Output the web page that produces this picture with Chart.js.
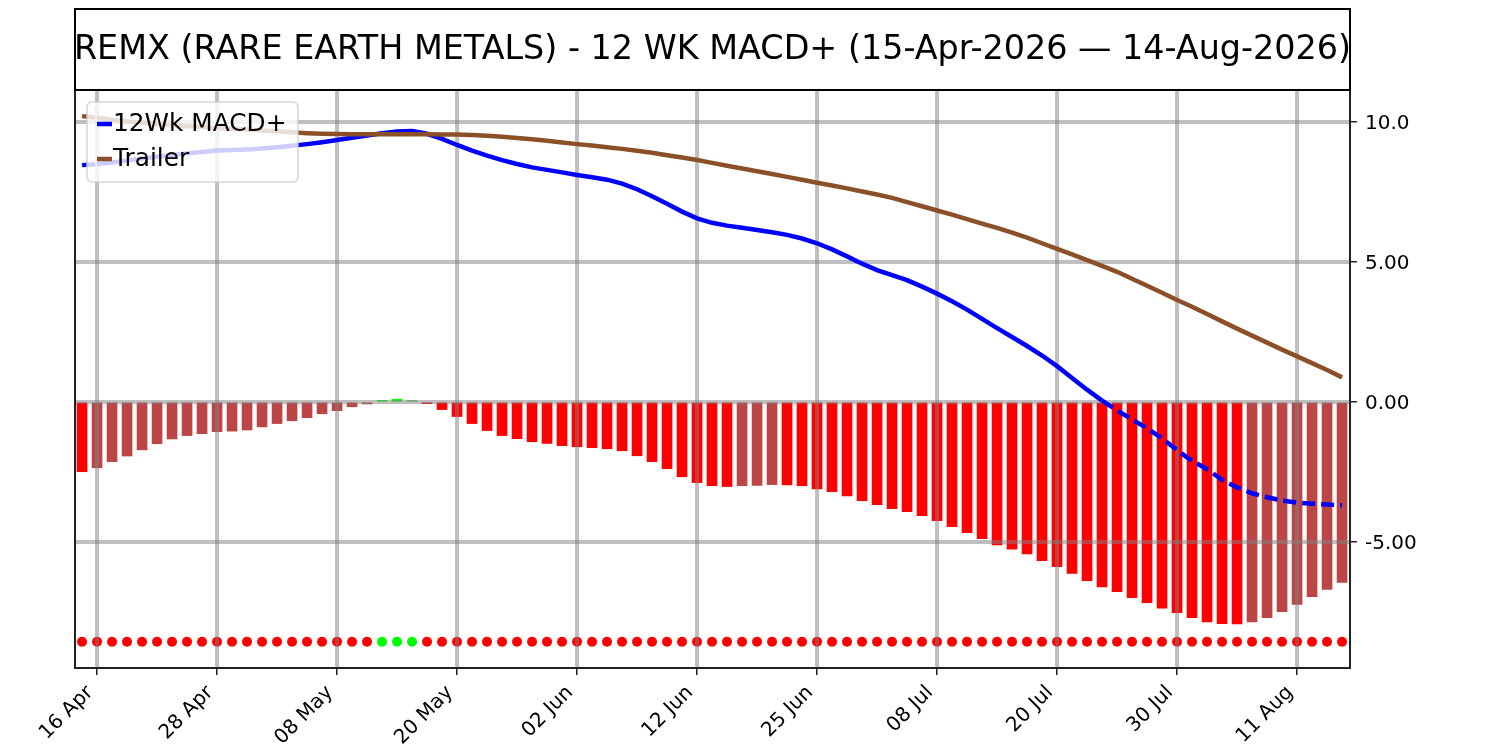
<!DOCTYPE html>
<html>
<head>
<meta charset="utf-8">
<script src="https://cdn.jsdelivr.net/npm/chart.js@4.4.1/dist/chart.umd.min.js"></script>
<style>
  html, body { margin: 0; padding: 0; background: #fff; }
</style>
</head>
<body>
<canvas id="chart" width="1500" height="750"></canvas>
<script>
const chartTitle = "REMX (RARE EARTH METALS) - 12 WK MACD+ (15-Apr-2026 \u2014 14-Aug-2026)";

// trading days, 15 Apr .. 14 Aug 2026
const dates = [
  "15 Apr", "16 Apr", "17 Apr", "20 Apr", "21 Apr", "22 Apr", "23 Apr", "24 Apr", "27 Apr", "28 Apr",
  "29 Apr", "30 Apr", "01 May", "04 May", "05 May", "06 May", "07 May", "08 May", "11 May", "12 May",
  "13 May", "14 May", "15 May", "18 May", "19 May", "20 May", "21 May", "22 May", "26 May", "27 May",
  "28 May", "29 May", "01 Jun", "02 Jun", "03 Jun", "04 Jun", "05 Jun", "08 Jun", "09 Jun", "10 Jun",
  "11 Jun", "12 Jun", "15 Jun", "16 Jun", "17 Jun", "18 Jun", "22 Jun", "23 Jun", "24 Jun", "25 Jun",
  "26 Jun", "29 Jun", "30 Jun", "01 Jul", "02 Jul", "06 Jul", "07 Jul", "08 Jul", "09 Jul", "10 Jul",
  "13 Jul", "14 Jul", "15 Jul", "16 Jul", "17 Jul", "20 Jul", "21 Jul", "22 Jul", "23 Jul", "24 Jul",
  "27 Jul", "28 Jul", "29 Jul", "30 Jul", "31 Jul", "03 Aug", "04 Aug", "05 Aug", "06 Aug", "07 Aug",
  "10 Aug", "11 Aug", "12 Aug", "13 Aug", "14 Aug"
];

const macdLine = [
  8.46, 8.50, 8.55, 8.62, 8.70, 8.76, 8.82, 8.88, 8.93, 8.98,
  9.00, 9.02, 9.05, 9.10, 9.15, 9.21, 9.28, 9.36, 9.44, 9.52,
  9.60, 9.66, 9.68, 9.58, 9.40, 9.18, 8.98, 8.80, 8.64, 8.50,
  8.38, 8.29, 8.20, 8.11, 8.03, 7.94, 7.80, 7.60, 7.35, 7.08,
  6.80, 6.56, 6.40, 6.30, 6.22, 6.14, 6.06, 5.97, 5.84, 5.67,
  5.45, 5.20, 4.94, 4.71, 4.53, 4.35, 4.12, 3.87, 3.60, 3.30,
  2.97, 2.64, 2.32, 2.00, 1.66, 1.28, 0.86, 0.44, 0.05, -0.30,
  -0.62, -0.94, -1.30, -1.72, -2.10, -2.40, -2.78, -3.05, -3.26, -3.40,
  -3.52, -3.59, -3.63, -3.66, -3.69
];

const trailerLine = [
  10.21, 10.15, 10.08, 10.02, 9.97, 9.93, 9.89, 9.85, 9.82, 9.79,
  9.76, 9.73, 9.70, 9.67, 9.63, 9.60, 9.58, 9.57, 9.56, 9.56,
  9.56, 9.56, 9.56, 9.56, 9.55, 9.55, 9.54, 9.51, 9.47, 9.43,
  9.38, 9.33, 9.27, 9.21, 9.16, 9.10, 9.04, 8.97, 8.90, 8.81,
  8.73, 8.64, 8.54, 8.44, 8.34, 8.24, 8.14, 8.04, 7.94, 7.83,
  7.73, 7.63, 7.52, 7.41, 7.29, 7.14, 6.99, 6.84, 6.69, 6.53,
  6.37, 6.22, 6.05, 5.87, 5.67, 5.47, 5.27, 5.07, 4.86, 4.65,
  4.40, 4.15, 3.90, 3.64, 3.40, 3.14, 2.88, 2.62, 2.37, 2.12,
  1.87, 1.63, 1.39, 1.14, 0.88
];

const histogram = [
  -2.49, -2.35, -2.13, -1.93, -1.71, -1.49, -1.32, -1.20, -1.13, -1.06,
  -1.04, -1.00, -0.89, -0.77, -0.67, -0.56, -0.42, -0.31, -0.17, -0.07,
  0.06, 0.10, 0.05, -0.06, -0.27, -0.52, -0.77, -1.02, -1.20, -1.31,
  -1.42, -1.48, -1.56, -1.60, -1.63, -1.67, -1.74, -1.92, -2.13, -2.38,
  -2.67, -2.88, -2.99, -3.02, -2.99, -2.98, -2.95, -2.96, -2.99, -3.10,
  -3.20, -3.35, -3.52, -3.67, -3.81, -3.92, -4.06, -4.24, -4.45, -4.67,
  -4.88, -5.10, -5.26, -5.43, -5.67, -5.88, -6.12, -6.38, -6.60, -6.77,
  -6.99, -7.17, -7.36, -7.52, -7.70, -7.85, -7.92, -7.93, -7.85, -7.70,
  -7.49, -7.23, -6.95, -6.69, -6.44
];

const dotLevel = -8.56;

const xTickLabels = ["16 Apr", "28 Apr", "08 May", "20 May", "02 Jun", "12 Jun", "25 Jun", "08 Jul", "20 Jul", "30 Jul", "11 Aug"];
const yTickValues = [10, 5, 0, -5];
const yTickLabels = ["10.0", "5.00", "0.00", "-5.00"];

// bar colour: falling below zero = red, recovering = dull red, green above zero
function barColor(v, i) {
  const prev = i > 0 ? histogram[i - 1] : null;
  if (v < 0) return (prev === null || v < prev) ? "#ff0000" : "rgb(188,70,70)";
  return (prev === null || v > prev) ? "#00ff00" : "rgb(76,175,80)";
}

const FONT = "DejaVu Sans";
Chart.defaults.font.family = FONT;
Chart.defaults.color = "#000";

let gridDone = false;
const gridUnderLines = {
  id: "gridUnderLines",
  beforeDatasetsDraw() { gridDone = false; },
  beforeDatasetDraw(chart, args) {
    if (gridDone || args.meta.type !== "line") return;
    gridDone = true;
    const ctx = chart.ctx, a = chart.chartArea;
    const xs = chart.scales.x, ys = chart.scales.y;
    ctx.save();
    ctx.beginPath();
    ctx.rect(a.left, a.top, a.right - a.left, a.bottom - a.top);
    ctx.clip();
    ctx.strokeStyle = "rgba(128,128,128,0.5)";
    ctx.lineWidth = 4;
    xTickLabels.forEach(l => {
      const px = xs.getPixelForValue(dates.indexOf(l));
      ctx.beginPath(); ctx.moveTo(px, a.top); ctx.lineTo(px, a.bottom); ctx.stroke();
    });
    yTickValues.forEach(v => {
      const py = ys.getPixelForValue(v);
      ctx.beginPath(); ctx.moveTo(a.left, py); ctx.lineTo(a.right, py); ctx.stroke();
    });
    ctx.restore();
  }
};

const frameAndTitle = {
  id: "frameAndTitle",
  afterDatasetsDraw(chart) {
    const ctx = chart.ctx, a = chart.chartArea;
    ctx.save();
    ctx.strokeStyle = "#222";
    ctx.lineWidth = 2;
    ctx.strokeRect(a.left, a.top, a.right - a.left, a.bottom - a.top);
    ctx.restore();
  },
  afterDraw(chart) {
    const ctx = chart.ctx, a = chart.chartArea;
    ctx.save();
    // title box
    ctx.strokeStyle = "#000";
    ctx.lineWidth = 2;
    ctx.strokeRect(a.left, 9, a.right - a.left, a.top - 9);
    ctx.fillStyle = "#000";
    ctx.font = "33.4px '" + FONT + "'";
    ctx.textAlign = "center";
    ctx.textBaseline = "middle";
    ctx.fillText(chartTitle, (a.left + a.right) / 2, (9 + a.top) / 2 + 1);

    // legend
    const bx = a.left + 12, by = a.top + 12, bw = 211, bh = 80;
    ctx.beginPath();
    ctx.roundRect(bx, by, bw, bh, 5);
    ctx.fillStyle = "rgba(255,255,255,0.8)";
    ctx.fill();
    ctx.strokeStyle = "rgba(204,204,204,0.8)";
    ctx.lineWidth = 1.5;
    ctx.stroke();
    const items = chart.data.datasets.filter(d => d.type === "line");
    ctx.font = "24.8px '" + FONT + "'";
    ctx.textAlign = "left";
    items.forEach((d, k) => {
      const cy = by + 22 + k * 35;
      ctx.strokeStyle = d.borderColor;
      ctx.lineWidth = 4.5;
      ctx.beginPath(); ctx.moveTo(bx + 10, cy); ctx.lineTo(bx + 25, cy); ctx.stroke();
      ctx.fillStyle = "#000";
      ctx.fillText(d.label, bx + 26, cy + 1);
    });
    ctx.restore();
  }
};

const dashed = ctx => (ctx.p0DataIndex === 0 || ctx.p1.parsed.y < 0) ? [13, 6] : undefined;

new Chart(document.getElementById("chart"), {
  type: "bar",
  data: {
    datasets: [
      {
        type: "line", label: "12Wk MACD+", order: 1,
        data: macdLine.map((v, i) => ({ x: i, y: v })),
        borderColor: "#0000ff", borderWidth: 4.5, pointRadius: 0, tension: 0, fill: false,
        segment: { borderDash: dashed }
      },
      {
        type: "line", label: "Trailer", order: 0,
        data: trailerLine.map((v, i) => ({ x: i, y: v })),
        borderColor: "#8c5028", borderWidth: 4.5, pointRadius: 0, tension: 0, fill: false,
        segment: { borderDash: dashed }
      },
      {
        type: "bar", label: "Histogram", order: 2,
        data: histogram.map((v, i) => ({ x: i, y: v })),
        backgroundColor: histogram.map(barColor),
        borderWidth: 0, barThickness: 10
      },
      {
        type: "scatter", label: "Signal", order: 2,
        data: histogram.map((v, i) => ({ x: i, y: dotLevel })),
        pointBackgroundColor: histogram.map(v => v > 0 ? "#00ff00" : "#ff0000"),
        pointBorderWidth: 0, pointRadius: 5, showLine: false
      }
    ]
  },
  options: {
    responsive: false,
    devicePixelRatio: 1,
    animation: false,
    layout: { padding: { top: 90, left: 75, right: 0, bottom: 0 } },
    plugins: { legend: { display: false }, title: { display: false }, tooltip: { enabled: false } },
    scales: {
      x: {
        type: "linear", min: -0.47, max: 84.53, offset: false,
        grid: { drawOnChartArea: false, drawTicks: true, tickLength: 7, color: "#222", lineWidth: 1.5, offset: false },
        border: { display: false },
        afterBuildTicks: s => { s.ticks = xTickLabels.map(l => ({ value: dates.indexOf(l) })); },
        afterFit: s => { s.height = 82; },
        ticks: {
          autoSkip: false, minRotation: 45, maxRotation: 45, padding: 6, labelOffset: -7,
          font: { size: 20 }, color: "#000",
          callback: v => dates[v]
        }
      },
      y: {
        type: "linear", position: "right", min: -9.5, max: 11.143,
        grid: { drawOnChartArea: false, drawTicks: true, tickLength: 7, color: "#222", lineWidth: 1.5 },
        border: { display: false },
        afterBuildTicks: s => { s.ticks = yTickValues.map(v => ({ value: v })); },
        afterFit: s => { s.width = 150; },
        ticks: {
          padding: 8, labelOffset: 2, font: { size: 20 }, color: "#000",
          callback: v => yTickLabels[yTickValues.indexOf(v)]
        }
      }
    }
  },
  plugins: [gridUnderLines, frameAndTitle]
});
</script>
</body>
</html>
